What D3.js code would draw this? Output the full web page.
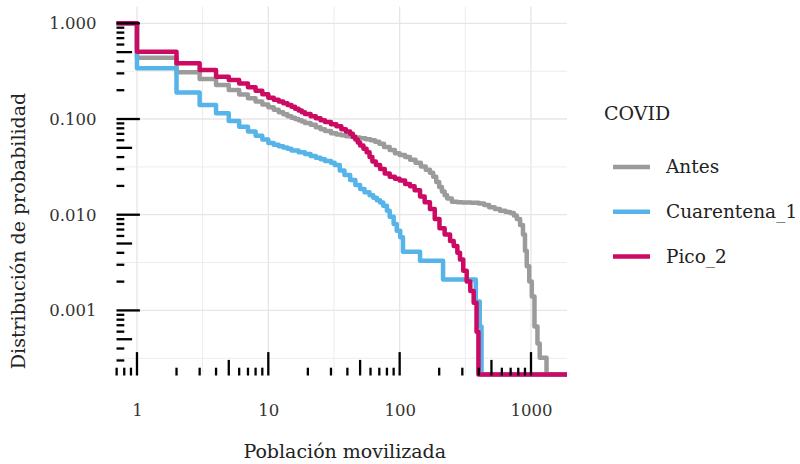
<!DOCTYPE html>
<html>
<head>
<meta charset="utf-8">
<script src="https://cdn.jsdelivr.net/npm/d3@7"></script>
<style>
  html, body { margin: 0; padding: 0; background: #ffffff; }
  svg { display: block; }
  text { font-family: "DejaVu Serif", "Liberation Serif", serif; }
</style>
</head>
<body>
<div id="chart"></div>
<script>
// ---------------- DATA ----------------
const seriesNames = ["Antes", "Cuarentena_1", "Pico_2"];
const seriesColors = ["#9b9b9b", "#56b4e9", "#cc0a63"];

const antesX = [1,2,3,4,5,6,7,8,9,10,11,12,13,14,15,16,17,18,19,21,23,25,27,30,33,36,39,42,46,50,55,60,65,70,76,84,92,100,110,120,132,145,158,170,180,190,200,210,220,230,250,275,300,350,400,440,480,530,580,640,695,740,780,826,869,900,928,970,1014,1063,1120,1165,1313];
const antesP = [0.437,0.308,0.262,0.227,0.201,0.180,0.165,0.152,0.142,0.133,0.125,0.118,0.112,0.107,0.103,0.100,0.097,0.094,0.091,0.087,0.082,0.078,0.075,0.071,0.069,0.0675,0.066,0.0656,0.064,0.063,0.0615,0.060,0.058,0.055,0.051,0.0475,0.044,0.042,0.040,0.0375,0.035,0.032,0.0295,0.0274,0.025,0.022,0.0195,0.0175,0.016,0.0148,0.0137,0.0135,0.0134,0.0133,0.0131,0.0126,0.0120,0.0115,0.0110,0.0107,0.0104,0.0098,0.0090,0.0078,0.0062,0.0042,0.0029,0.0020,0.0014,0.00068,0.00045,0.00032,0];

const cuarentenaX = [1,2,3,4,5,6,7,8,9,10,11,12,13,14,15,17,19,21,23,25,27,30,32,35,38,42,46,50,54,59,63,67,71,75,80,84,90,95,101,106,143,214,380,407,420];
const cuarentenaP = [0.339,0.189,0.140,0.115,0.0955,0.083,0.074,0.067,0.061,0.056,0.054,0.052,0.0505,0.049,0.047,0.045,0.043,0.041,0.0395,0.038,0.0365,0.035,0.033,0.029,0.026,0.023,0.0205,0.0186,0.0172,0.0160,0.0150,0.0142,0.0134,0.0124,0.011,0.0095,0.0080,0.0068,0.0058,0.0041,0.0033,0.0021,0.00124,0.00068,0];

const picoX = [1,2,3,4,5,6,7,8,9,10,11,12,13,14,15,16,17,18,19,21,23,25,27,30,33,36,39,42,44,46,48,50,53,56,59,62,66,71,77,84,92,100,110,120,130,143,155,170,185,201,220,242,258,275,288,305,324,345,366,385,398];
const picoP = [0.505,0.382,0.325,0.277,0.256,0.235,0.215,0.198,0.182,0.167,0.159,0.152,0.146,0.140,0.134,0.128,0.123,0.118,0.113,0.107,0.102,0.097,0.093,0.088,0.084,0.078,0.074,0.070,0.065,0.061,0.057,0.053,0.049,0.045,0.040,0.036,0.033,0.030,0.027,0.025,0.0238,0.0228,0.021,0.0198,0.018,0.0155,0.0135,0.0115,0.0090,0.0072,0.0062,0.0053,0.0047,0.0040,0.0034,0.0026,0.0020,0.0016,0.00120,0.00060,0];

const xTickValues = [1, 10, 100, 1000];
const yTickValues = [1, 0.1, 0.01, 0.001];

const xTitle = "Población movilizada";
const yTitle = "Distribución de probabilidad";
const legendTitle = "COVID";

// ---------------- LAYOUT ----------------
const W = 800, H = 464;
const panel = { left: 116.5, right: 567, top: 6.6, bottom: 374.5 };

const seriesX = [antesX, cuarentenaX, picoX];
const seriesP = [antesP, cuarentenaP, picoP];

// ggplot-like 5% expansion in log space
const allX = [].concat(...seriesX);
const allP = [].concat(...seriesP).filter(p => p > 0).concat([1]);
const lx0 = Math.log10(d3.min(allX)), lx1 = Math.log10(d3.max(allX));
const padX = 0.05 * (lx1 - lx0);
const ly0 = Math.log10(d3.min(allP)), ly1 = Math.log10(d3.max(allP));
const padY = 0.05 * (ly1 - ly0);

const x = d3.scaleLog()
  .domain([Math.pow(10, lx0 - padX), Math.pow(10, lx1 + padX)])
  .range([panel.left, panel.right]);
const y = d3.scaleLog()
  .domain([Math.pow(10, ly0 - padY), Math.pow(10, ly1 + padY)])
  .range([panel.bottom, panel.top]);

const svg = d3.select("#chart").append("svg")
  .attr("width", W).attr("height", H);

// ---------------- GRID ----------------
const grid = svg.append("g");
const majX = [], minX = [], majY = [], minY = [];
for (let n = -2; n <= 4; n++) {
  const v = Math.pow(10, n), m = Math.pow(10, n + 0.5);
  if (v >= x.domain()[0] && v <= x.domain()[1]) majX.push(v);
  if (m >= x.domain()[0] && m <= x.domain()[1]) minX.push(m);
}
for (let n = -5; n <= 1; n++) {
  const v = Math.pow(10, n), m = Math.pow(10, n + 0.5);
  if (v >= y.domain()[0] && v <= y.domain()[1]) majY.push(v);
  if (m >= y.domain()[0] && m <= y.domain()[1]) minY.push(m);
}
grid.selectAll(".minx").data(minX).enter().append("line")
  .attr("x1", d => x(d)).attr("x2", d => x(d))
  .attr("y1", panel.top).attr("y2", panel.bottom)
  .attr("stroke", "#ececec").attr("stroke-width", 1);
grid.selectAll(".miny").data(minY).enter().append("line")
  .attr("y1", d => y(d)).attr("y2", d => y(d))
  .attr("x1", panel.left).attr("x2", panel.right)
  .attr("stroke", "#ececec").attr("stroke-width", 1);
grid.selectAll(".majx").data(majX).enter().append("line")
  .attr("x1", d => x(d)).attr("x2", d => x(d))
  .attr("y1", panel.top).attr("y2", panel.bottom)
  .attr("stroke", "#e6e6e6").attr("stroke-width", 1.3);
grid.selectAll(".majy").data(majY).enter().append("line")
  .attr("y1", d => y(d)).attr("y2", d => y(d))
  .attr("x1", panel.left).attr("x2", panel.right)
  .attr("stroke", "#e6e6e6").attr("stroke-width", 1.3);

// ---------------- SERIES ----------------
const yPix = p => p > 0 ? y(p) : panel.bottom;
const line = d3.line()
  .x(d => x(d.x))
  .y(d => yPix(d.p))
  .curve(d3.curveStepAfter);

seriesNames.forEach((name, i) => {
  const pts = [{ x: x.domain()[0], p: 1 }];
  seriesX[i].forEach((xv, j) => pts.push({ x: xv, p: seriesP[i][j] }));
  pts.push({ x: x.domain()[1], p: 0 });
  svg.append("path")
    .datum(pts)
    .attr("d", line)
    .attr("fill", "none")
    .attr("stroke", seriesColors[i])
    .attr("stroke-width", 4.5)
    .attr("stroke-linejoin", "round");
});

// ---------------- LOG TICKS ----------------
const unit = 7.8;
const tickLen = k => k === 1 ? 3 * unit : (k === 5 ? 2 * unit : unit);
const lt = svg.append("g");
const leftTicks = [], bottomTicks = [];
for (let n = -5; n <= 1; n++) for (let k = 1; k <= 9; k++) {
  const v = k * Math.pow(10, n);
  if (v >= y.domain()[0] && v <= y.domain()[1]) leftTicks.push({ v, k });
}
for (let n = -2; n <= 4; n++) for (let k = 1; k <= 9; k++) {
  const v = k * Math.pow(10, n);
  if (v >= x.domain()[0] && v <= x.domain()[1]) bottomTicks.push({ v, k });
}
lt.selectAll(".lt").data(leftTicks).enter().append("line")
  .attr("x1", panel.left).attr("x2", d => panel.left + tickLen(d.k))
  .attr("y1", d => y(d.v)).attr("y2", d => y(d.v))
  .attr("stroke", "#000").attr("stroke-width", 2.3);
lt.selectAll(".bt").data(bottomTicks).enter().append("line")
  .attr("x1", d => x(d.v)).attr("x2", d => x(d.v))
  .attr("y1", panel.bottom + 1).attr("y2", d => panel.bottom + 1 - tickLen(d.k))
  .attr("stroke", "#000").attr("stroke-width", 2.3);

// ---------------- AXES ----------------
const yAxis = svg.append("g")
  .attr("transform", `translate(${panel.left},0)`)
  .call(d3.axisLeft(y).tickValues(yTickValues).tickFormat(d3.format(".3f")).tickSize(0).tickPadding(20));
yAxis.select(".domain").remove();
yAxis.selectAll("text").attr("font-family", "DejaVu Serif").attr("font-size", 16.5).attr("fill", "#333");

const xAxis = svg.append("g")
  .attr("transform", `translate(0,${panel.bottom})`)
  .call(d3.axisBottom(x).tickValues(xTickValues).tickFormat(d3.format("d")).tickSize(0).tickPadding(30));
xAxis.select(".domain").remove();
xAxis.selectAll("text").attr("font-family", "DejaVu Serif").attr("font-size", 16.5).attr("fill", "#333");

// titles
svg.append("text")
  .attr("x", (panel.left + panel.right) / 2 + 3)
  .attr("y", 451).attr("dy", "0.35em")
  .attr("text-anchor", "middle")
  .attr("font-size", 19).attr("fill", "#222")
  .text(xTitle);
svg.append("text")
  .attr("transform", "translate(18,231) rotate(-90)")
  .attr("dy", "0.35em")
  .attr("text-anchor", "middle")
  .attr("font-size", 19).attr("fill", "#222")
  .text(yTitle);

// ---------------- LEGEND ----------------
const leg = svg.append("g");
leg.append("text")
  .attr("x", 604).attr("y", 113).attr("dy", "0.35em")
  .attr("font-size", 19).attr("fill", "#222")
  .text(legendTitle);
const legY = [167, 211.7, 256.5];
seriesNames.forEach((name, i) => {
  leg.append("line")
    .attr("x1", 613).attr("x2", 650)
    .attr("y1", legY[i]).attr("y2", legY[i])
    .attr("stroke", seriesColors[i]).attr("stroke-width", 4.5);
  leg.append("text")
    .attr("x", 666).attr("y", legY[i]).attr("dy", "0.35em")
    .attr("font-size", 18.5).attr("fill", "#222")
    .text(name);
});
</script>
</body>
</html>
